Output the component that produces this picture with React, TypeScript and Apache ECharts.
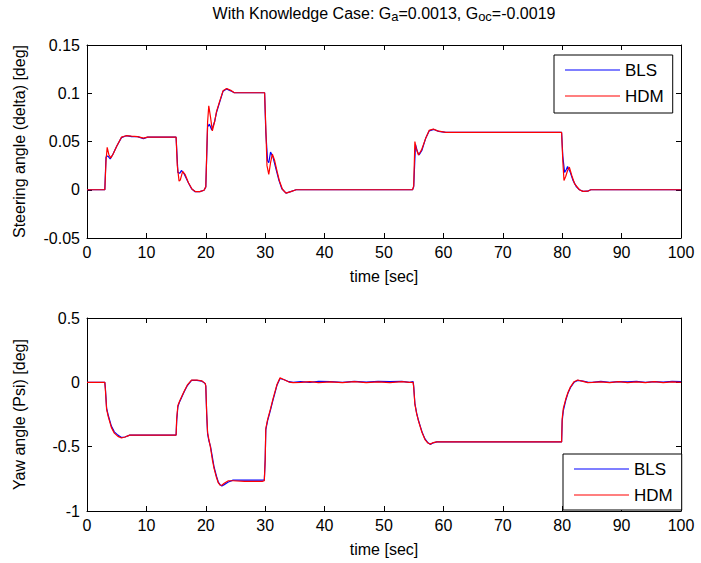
import React, { useEffect, useRef } from 'react';
import * as echarts from 'echarts';

const FONT = '"Liberation Sans", Arial, Helvetica, sans-serif';

const seriesNames = ['BLS', 'HDM'];
const seriesColors = ['#0000ff', '#ff0000'];

// Steering angle delta [deg] vs time [sec], as [time, value]
const steerBls: [number, number][] = [
  [0, 0], [3.0, 0], [3.2, 0.034], [3.5, 0.035], [3.9, 0.032], [4.3, 0.036], [5.0, 0.045],
  [5.8, 0.054], [6.6, 0.056], [7.5, 0.055], [8.5, 0.055], [9.5, 0.053], [10.2, 0.0545],
  [15.0, 0.0545], [15.3, 0.018], [15.6, 0.017], [15.9, 0.02], [16.3, 0.017], [17.0, 0.008],
  [17.6, 0.001], [18.2, -0.002], [19.0, -0.002], [19.7, -0.0005], [20.0, 0.003], [20.3, 0.065],
  [20.6, 0.068], [21.0, 0.062], [21.5, 0.071], [21.8, 0.08], [22.3, 0.09], [22.9, 0.102],
  [23.5, 0.1045], [24.2, 0.1025], [24.8, 0.1005], [29.9, 0.1005], [30.1, 0.06], [30.4, 0.03],
  [30.6, 0.028], [30.9, 0.039], [31.3, 0.034], [31.8, 0.022], [32.3, 0.01], [32.8, 0.001],
  [33.5, -0.0035], [34.3, -0.002], [35.2, 0], [54.8, 0], [55.0, 0.003], [55.3, 0.047],
  [55.6, 0.04], [55.9, 0.036], [56.4, 0.041], [57.0, 0.053], [57.6, 0.061], [58.4, 0.0625],
  [59.2, 0.0605], [60.4, 0.0594], [79.9, 0.0594], [80.1, 0.035], [80.4, 0.018], [80.7, 0.021],
  [80.9, 0.024], [81.3, 0.019], [81.8, 0.01], [82.4, 0.003], [82.9, 0], [83.5, -0.0017],
  [84.3, -0.0015], [84.8, 0], [100, 0],
];

const steerHdm: [number, number][] = [
  [0, 0], [3.0, 0], [3.2, 0.03], [3.4, 0.044], [3.7, 0.036], [4.0, 0.033], [4.4, 0.037],
  [5.0, 0.045], [5.8, 0.0545], [6.6, 0.056], [7.5, 0.0555], [8.5, 0.055], [9.5, 0.0535],
  [10.2, 0.0545], [15.0, 0.0545], [15.2, 0.025], [15.5, 0.009], [15.7, 0.01], [16.1, 0.019],
  [16.5, 0.016], [17.1, 0.007], [17.7, 0.0005], [18.3, -0.002], [19.0, -0.002], [19.7, -0.0005],
  [20.0, 0.003], [20.3, 0.07], [20.5, 0.087], [20.8, 0.075], [21.1, 0.061], [21.5, 0.071],
  [21.8, 0.081], [22.3, 0.091], [22.9, 0.1025], [23.5, 0.105], [24.2, 0.103], [24.8, 0.1005],
  [29.9, 0.1005], [30.1, 0.065], [30.3, 0.025], [30.6, 0.016], [30.9, 0.028], [31.2, 0.037],
  [31.6, 0.03], [32.0, 0.019], [32.4, 0.009], [32.9, 0.0005], [33.5, -0.0035], [34.3, -0.002],
  [35.2, 0], [54.8, 0], [55.0, 0.004], [55.2, 0.05], [55.4, 0.043], [55.8, 0.036], [56.3, 0.041],
  [57.0, 0.053], [57.6, 0.0615], [58.3, 0.063], [59.0, 0.061], [60.4, 0.0594], [79.9, 0.0594],
  [80.1, 0.03], [80.3, 0.0097], [80.6, 0.014], [80.9, 0.02], [81.2, 0.0235], [81.6, 0.015],
  [82.1, 0.006], [82.9, 0], [83.5, -0.0017], [84.3, -0.0015], [84.8, 0], [100, 0],
];

// Yaw angle Psi [deg] vs time [sec], as [time, value]
const yawBls: [number, number][] = [
  [0, 0], [3.0, 0], [3.1, -0.05], [3.3, -0.2], [3.6, -0.26], [4.1, -0.34], [4.6, -0.385],
  [5.2, -0.41], [5.8, -0.428], [6.4, -0.425], [7.2, -0.41], [15.0, -0.41], [15.1, -0.3],
  [15.3, -0.19], [15.6, -0.15], [16.0, -0.11], [16.4, -0.07], [16.9, -0.025], [17.6, 0.015],
  [18.5, 0.015], [19.3, 0.01], [19.9, -0.01], [20.0, -0.03], [20.15, -0.25], [20.3, -0.4],
  [20.5, -0.45], [20.8, -0.5], [21.1, -0.58], [21.4, -0.66], [21.8, -0.73], [22.1, -0.775],
  [22.4, -0.795], [22.7, -0.805], [23.1, -0.795], [23.8, -0.775], [24.6, -0.76], [29.85, -0.76],
  [30.0, -0.6], [30.1, -0.37], [30.4, -0.3], [30.9, -0.214], [31.3, -0.14], [31.6, -0.09],
  [32.0, -0.02], [32.5, 0.03], [33.2, 0.02], [34.0, 0.005], [34.7, 0], [36, 0.005], [37.5, 0],
  [39, 0.008], [41, 0.005], [43, 0], [45, 0.008], [47, 0.002], [49, 0.008], [51, 0.005],
  [53, 0.008], [54.3, 0], [54.9, 0.005], [55.0, -0.03], [55.2, -0.165], [55.5, -0.24],
  [55.8, -0.295], [56.1, -0.34], [56.4, -0.385], [56.9, -0.44], [57.4, -0.47], [57.8, -0.482],
  [58.3, -0.47], [58.9, -0.463], [79.9, -0.463], [80.0, -0.3], [80.2, -0.217], [80.6, -0.14],
  [81.0, -0.08], [81.4, -0.04], [82.0, 0], [82.6, 0.015], [83.5, 0.01], [84.3, 0.002], [85.1, 0],
  [86.5, 0.008], [88, 0], [89.5, 0.006], [91, 0.003], [92.5, 0.008], [94, 0], [95.5, 0.006],
  [97, 0.002], [98.5, 0.008], [100, 0.005],
];

const yawHdm: [number, number][] = [
  [0, 0], [3.0, 0], [3.1, -0.06], [3.3, -0.21], [3.6, -0.27], [4.1, -0.35], [4.6, -0.395],
  [5.2, -0.42], [5.8, -0.433], [6.4, -0.425], [7.2, -0.41], [15.0, -0.41], [15.1, -0.28],
  [15.3, -0.18], [15.6, -0.145], [16.0, -0.105], [16.4, -0.065], [16.9, -0.02], [17.6, 0.017],
  [18.5, 0.018], [19.3, 0.012], [19.9, -0.008], [20.0, -0.03], [20.15, -0.24], [20.3, -0.39],
  [20.5, -0.44], [20.8, -0.51], [21.1, -0.6], [21.4, -0.67], [21.8, -0.74], [22.1, -0.78],
  [22.4, -0.8], [22.7, -0.8], [23.1, -0.785], [23.8, -0.765], [24.6, -0.765], [26.5, -0.77],
  [29.5, -0.77], [29.85, -0.765], [30.0, -0.6], [30.1, -0.36], [30.4, -0.29], [30.9, -0.205],
  [31.3, -0.13], [31.6, -0.08], [32.0, -0.015], [32.5, 0.035], [33.2, 0.02], [34.0, 0.002],
  [34.7, -0.002], [36, 0], [37.5, 0.006], [39, -0.003], [41, 0.004], [43, -0.002], [45, 0.005],
  [47, -0.002], [49, 0.004], [51, -0.002], [53, 0.005], [54.3, 0], [54.9, 0], [55.0, -0.04],
  [55.2, -0.17], [55.5, -0.245], [55.8, -0.3], [56.1, -0.345], [56.4, -0.39], [56.9, -0.445],
  [57.4, -0.472], [57.8, -0.48], [58.3, -0.468], [58.9, -0.463], [79.9, -0.463], [80.0, -0.28],
  [80.2, -0.2], [80.6, -0.13], [81.0, -0.075], [81.4, -0.035], [82.0, 0.005], [82.6, 0.018],
  [83.5, 0.008], [84.3, -0.002], [85.1, 0], [86.5, 0.004], [88, -0.003], [89.5, 0.005],
  [91, -0.002], [92.5, 0.004], [94, -0.003], [95.5, 0.005], [97, -0.002], [98.5, 0.004], [100, 0],
];

// Axis ranges
const timeRange = { min: 0, max: 100, interval: 10 };
const steerRange = { min: -0.05, max: 0.15, interval: 0.05 };
const yawRange = { min: -1, max: 0.5, interval: 0.5 };

const axisFrame = {
  axisLine: { show: true, onZero: false, lineStyle: { color: '#000', width: 1 } },
  axisTick: { show: true, inside: true, length: 5, lineStyle: { color: '#000', width: 1 } },
  splitLine: { show: false },
};
const labelStyle = { color: '#000', fontSize: 16, fontFamily: FONT };

function xAxes(grid: number) {
  return [
    {
      type: 'value', gridIndex: grid, ...timeRange, position: 'bottom', ...axisFrame,
      axisLabel: { ...labelStyle, margin: 6 },
      name: 'time [sec]', nameLocation: 'middle', nameGap: 30, nameTextStyle: labelStyle,
    },
    {
      type: 'value', gridIndex: grid, ...timeRange, position: 'top', ...axisFrame,
      axisLabel: { show: false },
    },
  ];
}

function yAxes(grid: number, range: any, name: string) {
  return [
    {
      type: 'value', gridIndex: grid, ...range, position: 'left', ...axisFrame,
      axisLabel: { ...labelStyle, margin: 7 },
      name, nameLocation: 'middle', nameGap: 60, nameTextStyle: labelStyle,
    },
    {
      type: 'value', gridIndex: grid, ...range, position: 'right', ...axisFrame,
      axisLabel: { show: false },
    },
  ];
}

function line(name: string, color: string, data: [number, number][], axis: number) {
  return {
    type: 'line', name, data, xAxisIndex: axis, yAxisIndex: axis,
    symbol: 'none', silent: true,
    lineStyle: { color, width: 1.2 }, itemStyle: { color },
  };
}

// Boxed legend with a thin line sample before each name
function legendBox(left: number, top: number, padV: [number, number]) {
  return {
    data: seriesNames.map((name, i) => ({ name, itemStyle: { color: seriesColors[i] } })),
    left, top, orient: 'vertical', icon: 'rect',
    padding: [padV[0], 9, padV[1], 11], itemWidth: 55, itemHeight: 1.2, itemGap: 8,
    borderColor: '#000', borderWidth: 1, borderRadius: 0, backgroundColor: '#fff',
    selectedMode: false,
    textStyle: { color: '#000', fontSize: 17, lineHeight: 18, fontFamily: FONT },
  };
}

export default function App() {
  const ref = useRef<HTMLDivElement>(null);

  useEffect(() => {
    if (!ref.current) return;
    const chart = echarts.init(ref.current, undefined, { renderer: 'svg' });
    chart.setOption({
      animation: false,
      backgroundColor: '#fff',
      graphic: [
        {
          type: 'text', x: 384, y: 5,
          style: {
            text: '{n|With Knowledge Case: G}{s|a}{n|=0.0013, G}{s|oc}{n|=-0.0019}',
            align: 'center', verticalAlign: 'top', fill: '#000',
            rich: {
              n: { fontSize: 16, fontFamily: FONT, fill: '#000', lineHeight: 18, verticalAlign: 'top' },
              s: { fontSize: 13, fontFamily: FONT, fill: '#000', lineHeight: 14, padding: [8, 0, 0, 0], verticalAlign: 'bottom' },
            },
          },
        },
      ],
      grid: [
        { left: 87, top: 45, width: 594, height: 193, containLabel: false },
        { left: 87, top: 318, width: 594, height: 193, containLabel: false },
      ],
      xAxis: [...xAxes(0), ...xAxes(1)],
      yAxis: [
        ...yAxes(0, steerRange, 'Steering angle (delta) [deg]'),
        ...yAxes(1, yawRange, 'Yaw angle (Psi) [deg]'),
      ],
      legend: [legendBox(554, 55, [6, 8]), legendBox(563, 454, [6, 6])],
      series: [
        line(seriesNames[0], seriesColors[0], steerBls, 0),
        line(seriesNames[1], seriesColors[1], steerHdm, 0),
        line(seriesNames[0], seriesColors[0], yawBls, 2),
        line(seriesNames[1], seriesColors[1], yawHdm, 2),
      ],
    });
    return () => chart.dispose();
  }, []);

  return (
    <div
      ref={ref}
      style={{ position: 'absolute', left: 0, top: 0, width: 701, height: 563, background: '#fff' }}
    />
  );
}
